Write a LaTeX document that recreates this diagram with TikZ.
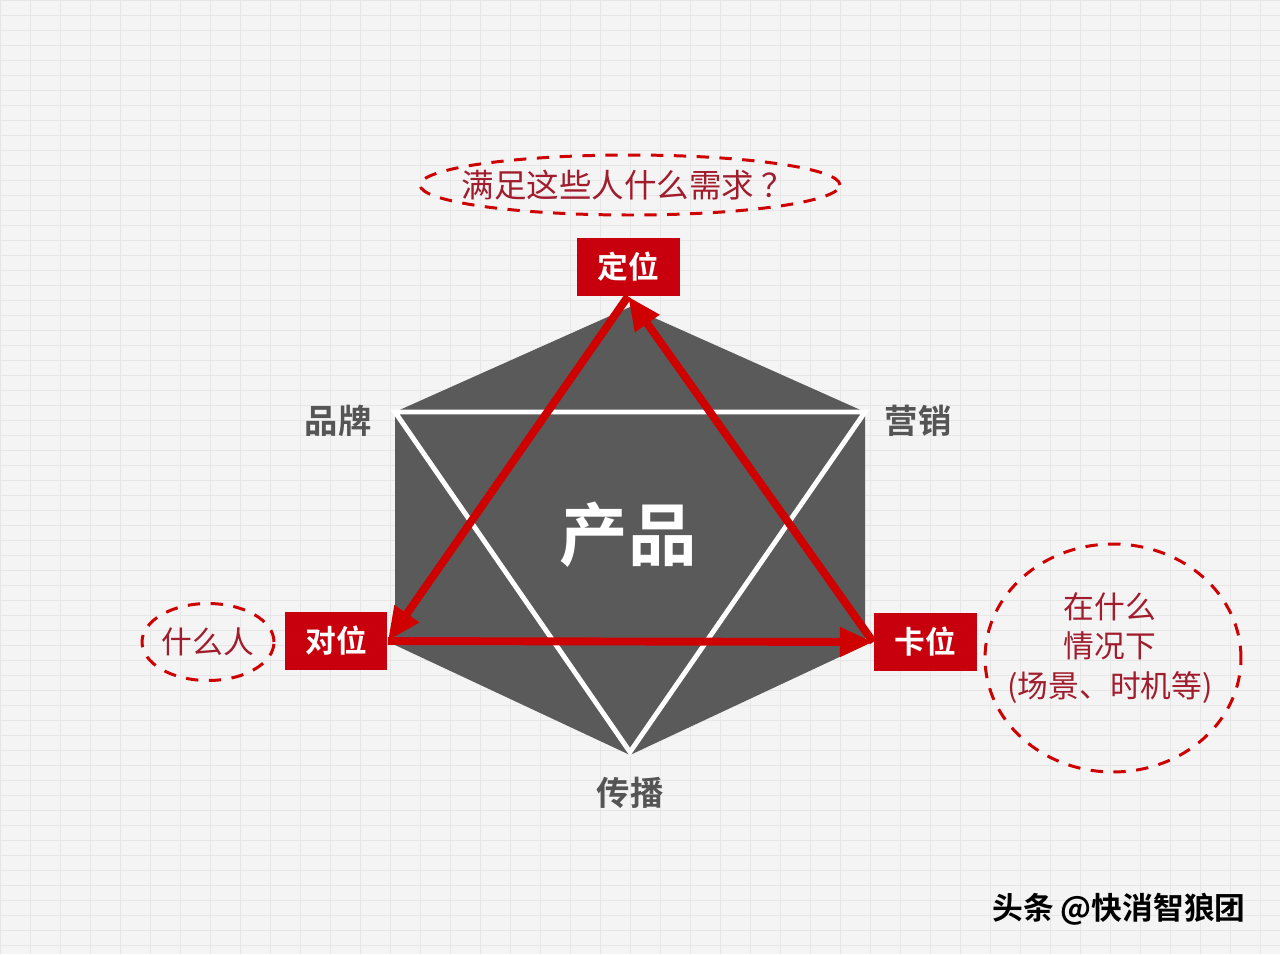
\documentclass[tikz,border=0pt]{standalone}
\usepackage{fontspec}
\setmainfont{Noto Sans CJK SC}
\newfontfamily\cjk{Noto Sans CJK SC}[BoldFont={Noto Sans CJK SC Bold}]
\usetikzlibrary{arrows.meta,shapes.geometric}
\definecolor{paper}{HTML}{F4F4F4}
\definecolor{gridgray}{HTML}{E6E6E6}
\definecolor{hexgray}{HTML}{5A5A5A}
\definecolor{boxred}{HTML}{C8000E}
\definecolor{linered}{HTML}{CE0000}
\definecolor{notered}{HTML}{A11C2C}
\definecolor{labelgray}{HTML}{555555}

\begin{document}
\begin{tikzpicture}[x=0.02cm,y=-0.02cm]
% Styles
\tikzstyle{redbox}=[fill=boxred, text=white, inner sep=0pt, minimum width=2.06cm,
  minimum height=1.16cm, font=\cjk\bfseries\fontsize{17.5}{17.5}\selectfont]
\tikzstyle{hexlabel}=[text=labelgray, font=\cjk\bfseries\fontsize{19}{19}\selectfont]
\tikzstyle{noteoval}=[draw=linered, ellipse, line width=1.7pt, dash pattern=on 7pt off 6pt,
  inner sep=0pt]
\tikzstyle{notetext}=[text=notered, align=center, font=\cjk\fontsize{17.5}{22.5}\selectfont]
\tikzstyle{redarrow}=[linered, line width=4.5pt, -{Triangle[length=19pt,width=16pt]}]

\useasboundingbox (0,0) rectangle (1280,954);
\fill[paper] (0,0) rectangle (1280,954);

% the grid of the paper
\foreach \gx in {0,30,...,1290} {
\draw[gridgray, line width=0.5pt] (\gx,0) -- (\gx,954);
}
\foreach \gy in {0,15,...,960} {
\draw[gridgray, line width=0.5pt] (0,\gy) -- (1280,\gy);
}

% the hexagon and the white triangle
\fill[hexgray] (630,307) -- (395,412) -- (395,645) -- (630,755) -- (865,645) -- (865,412) -- cycle;
\draw[white, line width=2.8pt, line join=miter] (395,412) -- (865,412) -- (630,752) -- cycle;

\node[text=white, font=\cjk\bfseries\fontsize{39}{39}\selectfont] (prod) at (628,535) {产品};
\node[hexlabel] (brand) at (338,421) {品牌};
\node[hexlabel] (market) at (918,421) {营销};
\node[hexlabel] (spread) at (630,793) {传播};

% the three boxes
\node[redbox] (dingwei) at (628,267) {定位};
\node[redbox] (duiwei) at (336,641) {对位};
\node[redbox] (kawei) at (925,642) {卡位};

% the red triangle
\draw[redarrow] (dingwei.south) -- (duiwei.east);
\draw[redarrow] (duiwei.east) -- (kawei.west);
\draw[redarrow] (kawei.west) -- (dingwei.south);

% the notes
\node[noteoval, minimum width=8.4cm, minimum height=1.2cm] (need) at (630,185) {};
\node[notetext, font=\cjk\fontsize{18.5}{22.5}\selectfont] (needtext) at (628,185)
  {满足这些人什么需求 ？};
\node[noteoval, minimum width=2.64cm, minimum height=1.54cm, notetext] (who) at (208,642)
  {什么人};
\node[noteoval, minimum width=5.12cm, minimum height=4.56cm] (when) at (1113,658) {};
\node[notetext] (whentext) at (1110,648) {在什么\\情况下\\(场景、时机等)};

\node[text=black, font=\cjk\bfseries\fontsize{17.5}{17.5}\selectfont] (mark) at (1119,909)
  {头条 @快消智狼团};

\end{tikzpicture}
\end{document}
